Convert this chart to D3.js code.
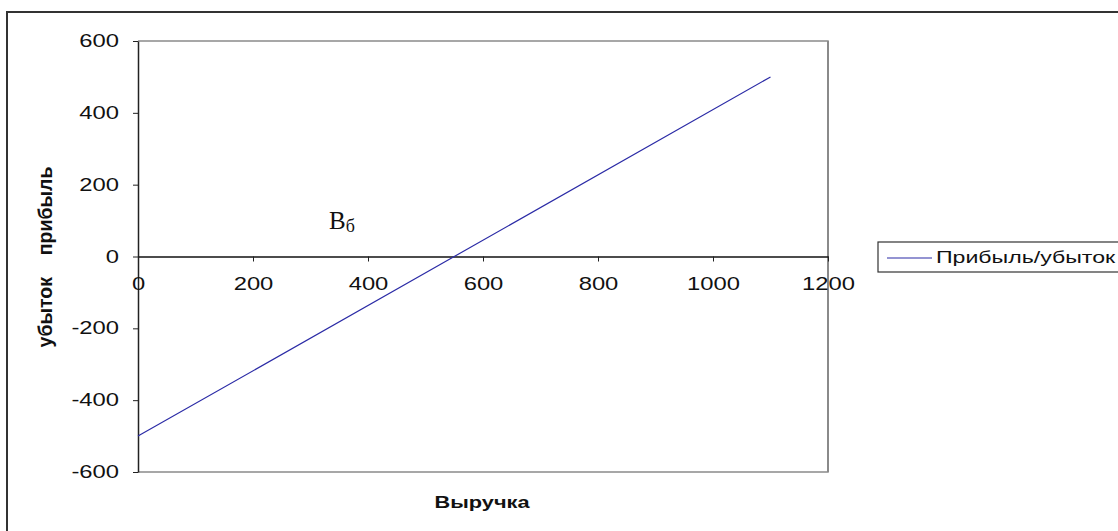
<!DOCTYPE html>
<html>
<head>
<meta charset="utf-8">
<script src="https://cdn.jsdelivr.net/npm/d3@7"></script>
<style>
  html, body { margin: 0; padding: 0; background: #fff; }
  svg { display: block; }
</style>
</head>
<body>
<svg id="chart" width="1118" height="531"></svg>
<script>
// Break-even chart: profit/loss as a function of revenue
const revenue = [0, 550, 1100];
const profit = [-500, 0, 500];
const xTicks = [0, 200, 400, 600, 800, 1000, 1200];
const yTicks = [-600, -400, -200, 0, 200, 400, 600];
const seriesName = "Прибыль/убыток";
const xTitle = "Выручка";
const yTitle = "убыток    прибыль";

const svg = d3.select("#chart");
const font = "Arial, 'Liberation Sans', sans-serif";
const wide = 1.36; // horizontal stretch of the label lettering
const fmt = d => String(d); // plain integers, ASCII hyphen for negatives

// outer chart frame
svg.append("rect")
  .attr("x", 7).attr("y", 12).attr("width", 1130).attr("height", 540)
  .attr("fill", "none").attr("stroke", "#333").attr("stroke-width", 2);

const plot = { left: 138, right: 828, top: 41, bottom: 472 };
const x = d3.scaleLinear().domain([0, 1200]).range([plot.left, plot.right]);
const y = d3.scaleLinear().domain([-600, 600]).range([plot.bottom, plot.top]);

// plot area border (grey)
svg.append("path")
  .attr("d", `M${plot.left},${plot.top}H${plot.right}V${plot.bottom}H${plot.left}`)
  .attr("fill", "none").attr("stroke", "#8a8a8a").attr("stroke-width", 1.5);
svg.append("line")
  .attr("x1", plot.right).attr("x2", plot.right)
  .attr("y1", plot.top).attr("y2", plot.bottom)
  .attr("stroke", "#8a8a8a").attr("stroke-width", 2);

// value axis
const yAxis = d3.axisLeft(y).tickValues(yTicks).tickFormat(fmt).tickSize(5).tickSizeOuter(0);
const gy = svg.append("g").attr("transform", `translate(${plot.left},0)`).call(yAxis);
gy.select(".domain").attr("stroke", "#222").attr("stroke-width", 1.5);
gy.selectAll(".tick line").attr("stroke", "#222");
gy.selectAll(".tick text")
  .attr("font-family", font).attr("font-size", 17.5).attr("fill", "#111")
  .attr("x", -19 / wide)
  .attr("transform", `scale(${wide},1)`);

// category axis crossing at zero
const xAxis = d3.axisBottom(x).tickValues(xTicks).tickFormat(fmt).tickSize(5).tickSizeOuter(0);
const gx = svg.append("g").attr("transform", `translate(0,${y(0)})`).call(xAxis);
gx.select(".domain").attr("stroke", "#111").attr("stroke-width", 1.5);
gx.selectAll(".tick line").attr("stroke", "#222");
gx.selectAll(".tick text")
  .attr("font-family", font).attr("font-size", 17.5).attr("fill", "#111")
  .attr("y", 21)
  .attr("transform", `scale(${wide},1)`);

// profit/loss line
const pts = revenue.map((v, i) => [v, profit[i]]);
svg.append("path")
  .datum(pts)
  .attr("d", d3.line().x(d => x(d[0])).y(d => y(d[1])))
  .attr("fill", "none").attr("stroke", "#2b2ba6").attr("stroke-width", 1.2);

// break-even label
const bl = svg.append("text")
  .attr("x", 329).attr("y", 229)
  .attr("font-family", "'Liberation Serif', 'Times New Roman', serif")
  .attr("font-size", 25).attr("fill", "#111");
bl.append("tspan").text("В");
bl.append("tspan").attr("font-size", 18).attr("dy", 3).text("б");

// axis titles
svg.append("g").attr("transform", `translate(482,508) scale(${wide},1)`)
  .append("text")
  .attr("text-anchor", "middle")
  .attr("font-family", font).attr("font-size", 16).attr("font-weight", "bold")
  .attr("fill", "#111").text(xTitle);

svg.append("text")
  .attr("transform", `translate(52,257) rotate(-90)`)
  .attr("text-anchor", "middle")
  .attr("font-family", font).attr("font-size", 19.5).attr("font-weight", "bold")
  .attr("fill", "#111")
  .style("white-space", "pre")
  .text(yTitle);

// legend
const lg = svg.append("g").attr("transform", "translate(878,242)");
lg.append("rect").attr("width", 300).attr("height", 30)
  .attr("fill", "#fff").attr("stroke", "#333").attr("stroke-width", 1.2);
lg.append("line").attr("x1", 9).attr("x2", 54).attr("y1", 16).attr("y2", 16)
  .attr("stroke", "#2b2ba6").attr("stroke-width", 1.2);
lg.append("g").attr("transform", `translate(58,21) scale(${wide},1)`)
  .append("text")
  .attr("font-family", font).attr("font-size", 17).attr("fill", "#111")
  .text(seriesName);
</script>
</body>
</html>
